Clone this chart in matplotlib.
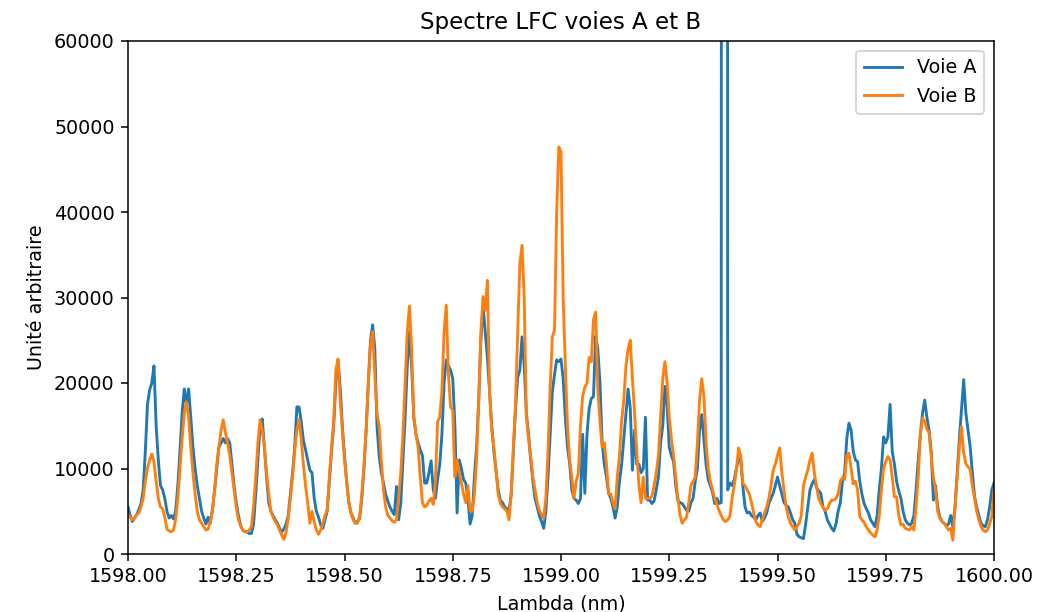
import numpy as np
import matplotlib
matplotlib.use("Agg")
import matplotlib.pyplot as plt
from matplotlib.ticker import FormatStrFormatter

# wavelength grid (nm), one sample every 0.005 nm
lambda_start = 1598.0
lambda_stop = 1600.0
n_samples = 401

# intensities in thousands (arbitrary units)
voie_a_k = [
    5.5, 4.5, 3.8, 4.2, 4.6, 5.2, 5.9, 7.5, 12, 17.5, 19.2, 20.0, 22.0, 15.0, 11.0, 8.0, 7.5, 6.5, 5.0, 4.2,
    4.5, 4.1, 5.0, 8.0, 12.0, 16.5, 19.3, 17.5, 19.3, 16.0, 12.5, 10.0, 8.0, 6.5, 5.0, 4.2, 3.5, 4.3, 3.6, 5.2,
    7.5, 10.0, 12.5, 13.0, 13.5, 13.0, 13.5, 13.0, 10.5, 8.0, 6.0, 4.5, 3.3, 2.8, 2.6, 2.6, 2.4, 2.4, 3.5, 7.0,
    11.0, 15.0, 15.8, 12.5, 9.0, 6.0, 5.0, 4.5, 4.0, 3.6, 3.0, 2.6, 2.9, 3.5, 4.5, 7.0, 9.5, 12.5, 17.2, 17.2,
    15.5, 13.3, 12.2, 11.0, 9.8, 9.5, 6.5, 5.0, 4.3, 3.4, 3.0, 4.0, 5.0, 8.5, 12.0, 15.0, 20.0, 22.7, 19.5, 15.0,
    11.5, 8.5, 6.0, 4.8, 4.2, 3.6, 3.8, 4.2, 6.5, 10.0, 14.5, 20.0, 25.0, 26.8, 24.0, 15.0, 11.5, 9.5, 8.3, 7.0,
    6.2, 5.5, 5.0, 4.6, 7.9, 4.0, 6.0, 11.0, 16.0, 22.0, 26.0, 22.0, 16.0, 14.0, 13.0, 12.2, 11.5, 8.3, 8.3, 9.5,
    10.9, 7.5, 6.5, 8.7, 10.5, 14.0, 20.0, 22.7, 22.0, 21.5, 20.5, 15.0, 4.8, 11.0, 10.0, 8.7, 8.3, 6.5, 3.5, 4.5,
    9.0, 12.5, 18.0, 25.0, 29.0, 26.0, 23.0, 19.0, 15.0, 12.0, 9.8, 7.5, 6.3, 6.0, 5.5, 5.3, 5.0, 7.0, 12.0, 17.0,
    20.7, 21.5, 25.4, 22.0, 16.5, 14.0, 11.0, 8.5, 6.5, 5.5, 4.5, 3.8, 3.0, 5.0, 9.0, 14.0, 19.0, 21.0, 22.7, 22.5,
    22.8, 20.5, 16.0, 12.5, 10.6, 7.5, 6.5, 6.3, 5.9, 6.5, 14.0, 7.1, 14.0, 17.0, 18.2, 18.4, 25.5, 24.0, 20.0, 13.0,
    10.5, 9.0, 7.1, 6.5, 5.5, 4.2, 5.5, 8.5, 10.5, 13.5, 16.4, 19.3, 17.0, 9.8, 14.5, 10.5, 10.5, 9.5, 10.0, 16.0,
    6.3, 6.3, 5.9, 6.2, 7.5, 9.0, 13.0, 15.0, 19.6, 17.5, 12.5, 11.5, 10.8, 8.0, 6.3, 6.0, 5.9, 5.5, 5.1, 5.0,
    6.0, 6.5, 8.5, 10.0, 14.5, 16.3, 13.5, 10.5, 8.7, 8.0, 7.2, 5.9, 6.5, 5.9, 6.0, 950.0, 950.0, 7.5, 8.3, 8.0,
    8.7, 10.0, 11.2, 11.0, 7.9, 5.5, 4.8, 4.9, 4.5, 4.3, 4.0, 4.5, 4.8, 3.8, 4.2, 4.8, 5.9, 6.5, 7.1, 8.0,
    9.0, 8.0, 7.0, 6.0, 5.7, 5.5, 4.8, 4.0, 3.6, 2.3, 2.0, 1.9, 1.8, 3.5, 5.5, 7.5, 8.2, 8.7, 7.8, 7.4,
    7.1, 5.5, 5.0, 4.0, 3.5, 3.0, 2.7, 3.5, 5.0, 6.0, 8.5, 9.5, 13.5, 15.3, 14.5, 12.0, 11.0, 10.8, 8.5, 7.0,
    5.9, 5.3, 4.8, 4.0, 3.6, 3.2, 4.5, 7.5, 10.0, 13.7, 13.0, 13.7, 17.5, 12.0, 10.5, 8.5, 7.4, 6.5, 5.0, 4.0,
    3.6, 3.4, 3.6, 4.5, 7.5, 11.0, 14.0, 16.5, 18.0, 16.0, 14.5, 12.0, 6.3, 8.0, 5.5, 4.3, 3.8, 3.6, 3.3, 3.5,
    4.5, 3.2, 5.5, 9.5, 13.5, 17.0, 20.4, 16.5, 14.5, 12.5, 9.5, 6.8, 5.5, 4.5, 3.6, 3.3, 3.2, 4.0, 5.5, 7.5,
    8.3,
]

voie_b_k = [
    4.6, 4.3, 4.0, 4.2, 4.6, 4.8, 5.5, 6.5, 8.5, 10.0, 11.0, 11.7, 10.8, 8.5, 6.5, 5.5, 5.3, 4.3, 2.9, 2.7,
    2.6, 2.8, 4.0, 6.5, 10.0, 13.5, 16.5, 17.8, 16.0, 12.5, 9.5, 7.0, 5.0, 4.0, 3.6, 3.2, 2.8, 2.9, 3.8, 5.0,
    7.5, 10.5, 12.5, 14.5, 15.7, 14.2, 13.0, 11.5, 9.5, 7.5, 5.5, 4.0, 3.4, 2.8, 2.6, 2.6, 2.8, 3.2, 5.5, 9.0,
    13.0, 15.7, 14.5, 12.5, 9.5, 7.0, 5.0, 4.3, 3.8, 3.4, 2.8, 2.2, 1.7, 2.5, 4.2, 6.5, 9.0, 12.0, 14.5, 15.7,
    13.5, 10.5, 8.0, 6.0, 3.6, 5.0, 3.8, 2.8, 2.3, 2.8, 3.6, 4.5, 5.2, 9.0, 12.5, 15.5, 21.5, 22.8, 18.0, 14.5,
    11.0, 8.5, 6.0, 4.8, 4.0, 3.6, 3.6, 4.4, 7.0, 10.5, 14.5, 20.0, 24.5, 26.0, 21.0, 16.5, 15.0, 11.0, 7.5, 5.5,
    4.5, 4.2, 3.9, 3.7, 4.0, 6.5, 9.5, 14.0, 20.0, 26.0, 29.0, 24.0, 16.0, 14.0, 12.5, 9.0, 6.0, 5.5, 5.7, 6.2,
    6.5, 5.8, 8.5, 15.5, 16.0, 19.0, 26.0, 29.1, 21.0, 17.2, 16.8, 9.0, 11.0, 9.5, 8.3, 7.0, 6.0, 8.0, 5.1, 5.0,
    7.0, 11.0, 18.0, 26.0, 30.1, 28.5, 32.0, 19.0, 14.5, 12.5, 9.8, 7.0, 5.9, 5.5, 5.3, 5.0, 4.0, 7.0, 12.5, 17.5,
    26.0, 34.0, 36.1, 30.0, 16.1, 13.5, 11.5, 9.0, 7.5, 6.0, 5.1, 4.6, 4.2, 6.5, 12.0, 19.5, 25.4, 26.2, 40.0, 47.6,
    47.0, 30.0, 22.0, 15.0, 11.0, 9.0, 6.5, 8.5, 9.4, 15.0, 18.5, 19.5, 20.0, 23.0, 22.5, 27.4, 28.3, 19.2, 15.5, 12.5,
    13.0, 10.5, 7.0, 7.0, 6.0, 5.3, 9.0, 11.5, 15.5, 18.0, 22.0, 24.0, 25.0, 20.5, 16.4, 12.0, 8.0, 6.0, 9.0, 6.5,
    6.5, 6.5, 6.8, 8.0, 9.5, 11.5, 16.0, 20.5, 22.5, 20.0, 16.0, 13.5, 11.5, 9.0, 6.5, 4.5, 3.6, 4.0, 4.3, 6.0,
    8.0, 8.5, 9.0, 13.0, 18.0, 20.5, 18.5, 13.0, 10.0, 8.5, 7.5, 6.5, 5.8, 5.1, 4.5, 4.0, 3.8, 4.0, 4.4, 6.5,
    8.0, 9.8, 12.4, 11.5, 8.3, 8.0, 7.5, 7.0, 6.0, 4.8, 3.8, 3.4, 3.2, 4.0, 4.8, 5.5, 6.5, 8.0, 9.8, 10.5,
    11.5, 12.4, 9.5, 7.5, 5.5, 4.3, 3.6, 3.2, 2.8, 3.2, 3.6, 4.5, 8.0, 9.0, 9.8, 11.0, 11.8, 9.5, 8.0, 6.5,
    5.9, 5.5, 5.1, 5.3, 5.9, 6.3, 6.3, 6.5, 7.0, 8.5, 8.9, 8.7, 11.5, 11.8, 10.0, 8.2, 8.5, 7.5, 4.4, 4.0,
    3.7, 3.2, 2.8, 2.5, 2.2, 2.0, 2.8, 4.5, 7.5, 10.0, 10.8, 11.4, 11.0, 9.0, 6.7, 6.7, 4.5, 3.4, 3.5, 3.0,
    2.9, 2.8, 3.2, 2.8, 5.5, 9.0, 14.0, 15.9, 15.5, 14.6, 14.2, 11.5, 9.0, 7.5, 5.0, 4.2, 3.8, 3.6, 3.2, 2.8,
    3.0, 1.6, 5.5, 9.0, 12.5, 14.9, 11.8, 10.6, 10.2, 9.9, 8.0, 6.5, 5.0, 4.0, 3.2, 2.8, 2.6, 2.8, 3.5, 4.4,
    7.5,
]


def visualise():
    lam = np.linspace(lambda_start, lambda_stop, n_samples)
    voie_a = np.array(voie_a_k) * 1000
    voie_b = np.array(voie_b_k) * 1000

    fig = plt.figure(figsize=(1046 / 138, 612 / 138), dpi=138)
    ax = fig.add_axes([128 / 1046, 58 / 612, 866 / 1046, 513 / 612])

    ax.plot(lam, voie_a, label='Voie A')
    ax.plot(lam, voie_b, label='Voie B')

    ax.set_xlim(lambda_start, lambda_stop)
    ax.set_ylim(0, 60000)
    ax.set_xticks(np.arange(1598.0, 1600.01, 0.25))
    ax.xaxis.set_major_formatter(FormatStrFormatter('%.2f'))

    ax.set_title('Spectre LFC voies A et B')
    ax.set_xlabel('Lambda (nm)')
    ax.set_ylabel('Unité arbitraire')
    ax.legend(loc='upper right')

    fig.savefig("out.png", dpi=138)


if __name__ == '__main__':
    visualise()
